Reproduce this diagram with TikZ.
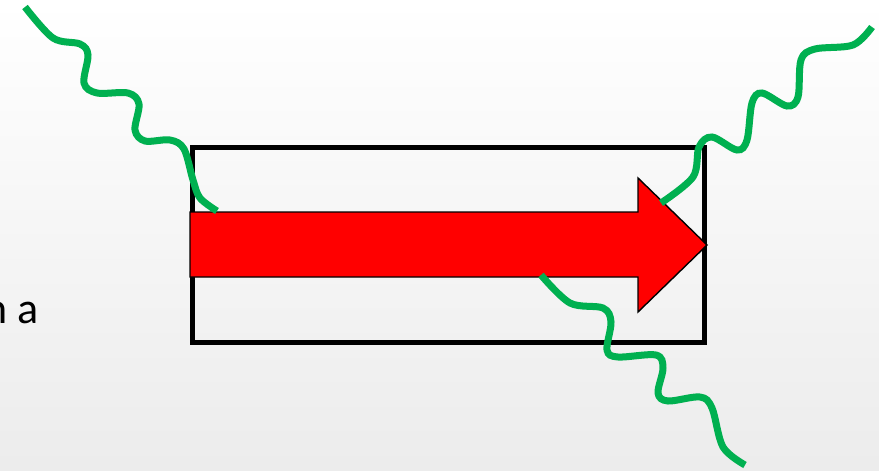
\documentclass[tikz,border=0pt]{standalone}
\usepackage{fontspec}
\usepackage{xcolor}
\usepackage{tikz}
\usetikzlibrary{positioning, arrows.meta}
\newfontfamily\slidefont{Carlito}
\definecolor{wavegreen}{HTML}{00B050}

\begin{document}
\begin{tikzpicture}[
  x=0.5pt, y=-0.5pt,
  frame/.style={draw, line width=2.5pt, inner sep=0pt,
              minimum width=256pt, minimum height=97.25pt},
  bigarrow/.style={fill=red, draw=black, line width=0.7pt, line join=miter},
  wave/.style={draw=wavegreen, line width=3.5pt, smooth, tension=0.55},
  label/.style={font=\slidefont\fontsize{22}{26}\selectfont, inner sep=0pt}
]
  \useasboundingbox (0,0) rectangle (879,471);
  \shade[top color=white, bottom color=gray!15] (0,0) rectangle (879,471);
  \clip (0,0) rectangle (879,471);

  % Text cut at the left edge
  \node[label, anchor=base east] (lbl) at (39,323) {n a};

  % Box and arrow
  \node[frame] (box) at (448.5,244.75) {};
  \draw[bigarrow] (box.west |- 0,212) -- (638,212) -- (638,178)
    -- (box.east |- 0,245) -- (638,312) -- (638,277)
    -- (box.west |- 0,277) -- cycle;

  % Waves
  \draw[wave] plot coordinates {(25,7) (53,38) (80,44) (88,55) (84,83)
    (97,93) (128,93) (139,104) (135,130) (145,141) (170,140) (184,149)
    (193,180) (200,198) (217,211)};
  \draw[wave] plot coordinates {(872,27) (853,45) (815,49) (801,60)
    (798,97) (787,106) (762,93) (752,103) (747,140) (737,150) (712,137)
    (699,147) (693,177) (661,203)};
  \draw[wave] plot coordinates {(541,275) (570,303) (603,308) (611,322)
    (607,350) (618,357) (656,355) (663,368) (658,393) (668,401) (700,397)
    (712,408) (723,447) (745,465)};

\end{tikzpicture}
\end{document}
